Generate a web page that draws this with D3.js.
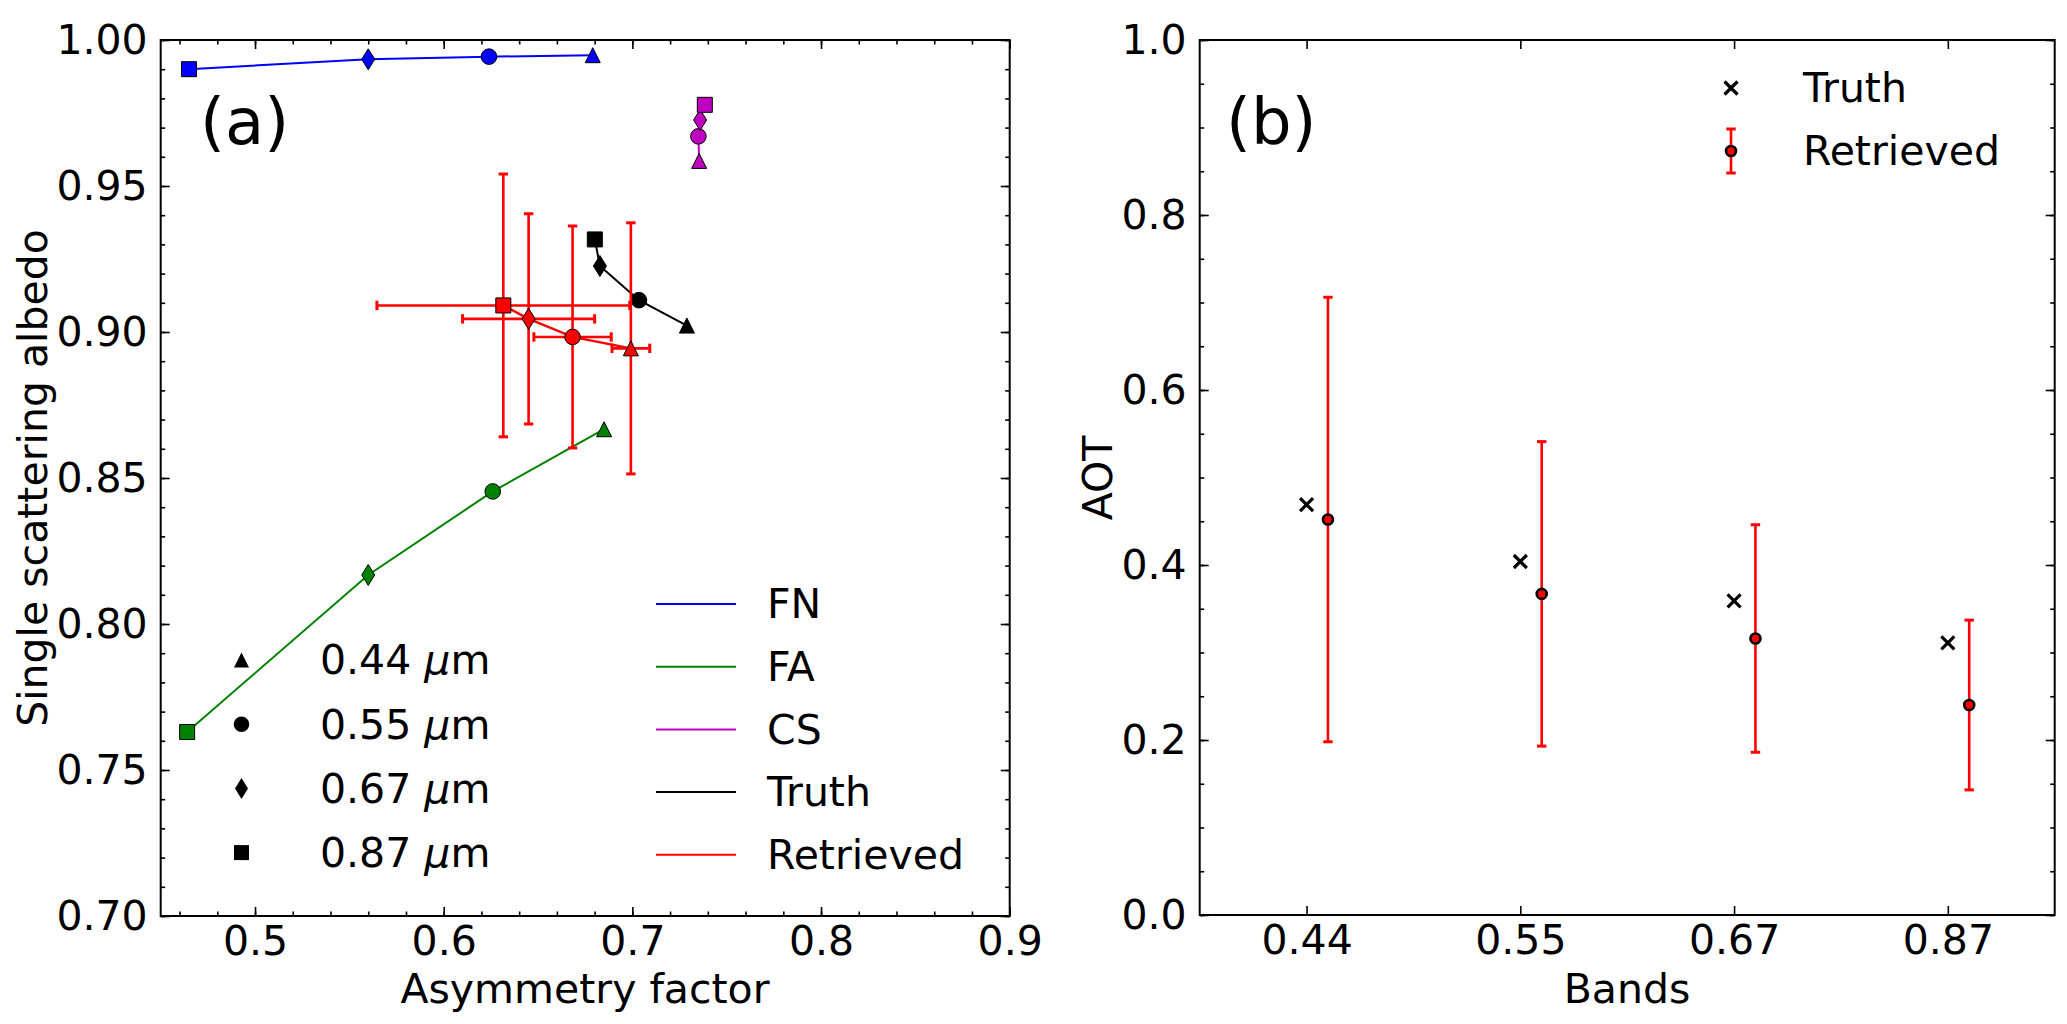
<!DOCTYPE html>
<html>
<head>
<meta charset="utf-8">
<script src="https://cdn.jsdelivr.net/npm/d3@7"></script>
<style>
  body { margin: 0; background: #fff; }
  text { font-family: "DejaVu Sans", sans-serif; }
</style>
</head>
<body>
<svg id="fig" width="2067" height="1024"></svg>
<script>
// wavelengths, in the same order as the marker shapes
const bands = ['0.44', '0.55', '0.67', '0.87'];
const shapes = ['triangle', 'circle', 'diamond', 'square'];

// panel (a): asymmetry factor (g) and single scattering albedo (w)
const fnG = [0.679, 0.624, 0.560, 0.465];
const fnW = [0.9948, 0.9943, 0.9934, 0.9900];
const faG = [0.685, 0.626, 0.560, 0.464];
const faW = [0.8667, 0.8454, 0.8168, 0.7630];
const csG = [0.7354, 0.7350, 0.7359, 0.7384];
const csW = [0.9586, 0.9670, 0.9726, 0.9778];
const truthG = [0.7289, 0.7035, 0.6828, 0.6801];
const truthW = [0.9022, 0.9109, 0.9226, 0.9317];
const retG = [0.6992, 0.6683, 0.6450, 0.6316];
const retW = [0.8944, 0.8983, 0.9045, 0.9091];
const retGErr = [0.010, 0.0205, 0.035, 0.067];
const retWErr = [0.043, 0.038, 0.036, 0.045];

// panel (b): AOT per band
const aotTruth = [0.469, 0.404, 0.359, 0.311];
const aotRet = [0.452, 0.367, 0.316, 0.240];
const aotErr = [0.254, 0.174, 0.130, 0.097];

const series = [
  { name: 'FN', color: '#0000ff', g: fnG, w: fnW },
  { name: 'FA', color: '#008000', g: faG, w: faW },
  { name: 'CS', color: '#bf00bf', g: csG, w: csW },
  { name: 'Truth', color: '#000000', g: truthG, w: truthW },
  { name: 'Retrieved', color: '#ff0000', g: retG, w: retW }
];

const svg = d3.select('#fig');
const FS = 41;

function markerPath(shape) {
  switch (shape) {
    case 'triangle': return 'M0,-7.5L7.5,7.5L-7.5,7.5Z';
    case 'diamond': return 'M0,-10.5L6.5,0L0,10.5L-6.5,0Z';
    case 'square': return 'M-7.5,-7.5H7.5V7.5H-7.5Z';
    default: return d3.arc()({ innerRadius: 0, outerRadius: 7.8, startAngle: 0, endAngle: 2 * Math.PI });
  }
}

function styleAxis(sel) {
  sel.select('.domain').remove();
  sel.selectAll('.tick line').attr('stroke', '#000').attr('stroke-width', 1.6);
  sel.attr('font-size', FS).attr('font-family', '"DejaVu Sans", sans-serif');
  sel.selectAll('text').attr('fill', '#000');
}

// classic matplotlib frame: ticks inward on all four sides
function drawFrame(g, x, y, o) {
  const [x0, x1] = x.range();
  const [y0, y1] = y.range();
  const addAxis = (axis, tr, values, size, fmt, pad) => {
    const a = g.append('g').attr('transform', tr)
      .call(axis.tickValues(values).tickSize(-size).tickPadding(pad).tickFormat(fmt));
    styleAxis(a);
  };
  const none = () => '';
  addAxis(d3.axisBottom(x), `translate(0,${y0})`, o.xMajor, 9, o.xFmt, 10);
  addAxis(d3.axisTop(x), `translate(0,${y1})`, o.xMajor, 9, none, 0);
  addAxis(d3.axisLeft(y), `translate(${x0},0)`, o.yMajor, 9, o.yFmt, 13);
  addAxis(d3.axisRight(y), `translate(${x1},0)`, o.yMajor, 9, none, 0);
  if (o.xMinor) {
    addAxis(d3.axisBottom(x), `translate(0,${y0})`, o.xMinor, 4.5, none, 0);
    addAxis(d3.axisTop(x), `translate(0,${y1})`, o.xMinor, 4.5, none, 0);
  }
  if (o.yMinor) {
    addAxis(d3.axisLeft(y), `translate(${x0},0)`, o.yMinor, 4.5, none, 0);
    addAxis(d3.axisRight(y), `translate(${x1},0)`, o.yMinor, 4.5, none, 0);
  }
  g.append('rect')
    .attr('x', x0).attr('y', y1)
    .attr('width', x1 - x0).attr('height', y0 - y1)
    .attr('fill', 'none').attr('stroke', '#000').attr('stroke-width', 2);
}

function errBar(g, x1, y1, x2, y2, vertical) {
  g.append('line').attr('x1', x1).attr('y1', y1).attr('x2', x2).attr('y2', y2)
    .attr('stroke', '#ff0000').attr('stroke-width', 2.6);
  const cap = 4.7;
  [[x1, y1], [x2, y2]].forEach(([cx, cy]) => {
    g.append('line')
      .attr('x1', vertical ? cx - cap : cx).attr('x2', vertical ? cx + cap : cx)
      .attr('y1', vertical ? cy : cy - cap).attr('y2', vertical ? cy : cy + cap)
      .attr('stroke', '#ff0000').attr('stroke-width', 3);
  });
}

// ---------- panel (a) ----------
const xA = d3.scaleLinear().domain([0.45, 0.9]).range([160.7, 1009.7]);
const yA = d3.scaleLinear().domain([0.70, 1.00]).range([916, 40]);
const gA = svg.append('g');

const line = d3.line().x(d => xA(d[0])).y(d => yA(d[1]));

series.forEach(s => {
  const pts = s.g.map((v, i) => [v, s.w[i]]);
  if (s.name === 'Retrieved') {
    const eg = gA.append('g');
    pts.forEach((p, i) => {
      errBar(eg, xA(p[0]), yA(p[1] + retWErr[i]), xA(p[0]), yA(p[1] - retWErr[i]), true);
      errBar(eg, xA(p[0] - retGErr[i]), yA(p[1]), xA(p[0] + retGErr[i]), yA(p[1]), false);
    });
  }
  gA.append('path').attr('d', line(pts))
    .attr('fill', 'none').attr('stroke', s.color)
    .attr('stroke-width', s.name === 'Retrieved' ? 2.4 : 2);
  gA.selectAll(null).data(pts).enter().append('path')
    .attr('d', (d, i) => markerPath(shapes[i]))
    .attr('transform', d => `translate(${xA(d[0])},${yA(d[1])})`)
    .attr('fill', s.color).attr('stroke', '#000').attr('stroke-width', 1);
});

drawFrame(gA, xA, yA, {
  xMajor: [0.5, 0.6, 0.7, 0.8, 0.9],
  xMinor: d3.range(23, 45).map(i => i * 0.02),
  yMajor: d3.range(0, 7).map(i => 0.70 + i * 0.05),
  yMinor: d3.range(70, 101).map(i => i / 100),
  xFmt: d3.format('.1f'),
  yFmt: d3.format('.2f')
});

gA.append('text').attr('x', 585).attr('y', 1003).attr('text-anchor', 'middle')
  .attr('font-size', FS).text('Asymmetry factor');
gA.append('text').attr('transform', 'translate(47,478) rotate(-90)').attr('text-anchor', 'middle')
  .attr('font-size', FS).text('Single scattering albedo');
gA.append('text').attr('x', 200).attr('y', 144).attr('font-size', 64).text('(a)');

// marker legend (wavelengths)
const legM = gA.append('g');
bands.forEach((b, i) => {
  const cy = 660 + i * 64.2;
  legM.append('path').attr('d', markerPath(shapes[i]))
    .attr('transform', `translate(241.5,${cy})`).attr('fill', '#000');
  const t = legM.append('text').attr('x', 320).attr('y', cy).attr('dy', '0.35em')
    .attr('font-size', FS).text(b + ' ');
  t.append('tspan').attr('font-style', 'italic').text('\u03bc');
  t.append('tspan').text('m');
});

// line legend (datasets)
const legL = gA.append('g');
series.forEach((s, i) => {
  const cy = 604 + i * 62.7;
  legL.append('line').attr('x1', 656).attr('x2', 736).attr('y1', cy).attr('y2', cy)
    .attr('stroke', s.color).attr('stroke-width', 2);
  legL.append('text').attr('x', 767).attr('y', cy).attr('dy', '0.35em')
    .attr('font-size', FS).text(s.name);
});

// ---------- panel (b) ----------
const xB = d3.scaleLinear().domain([-0.5, 3.5]).range([1199.7, 2054.7]);
const yB = d3.scaleLinear().domain([0, 1]).range([915, 40]);
const gB = svg.append('g');
const offset = 0.1;

function crossMark(g, cx, cy) {
  const h = 6.5;
  g.append('path').attr('d', `M${cx - h},${cy - h}L${cx + h},${cy + h}M${cx - h},${cy + h}L${cx + h},${cy - h}`)
    .attr('stroke', '#000').attr('stroke-width', 3.2).attr('fill', 'none');
}
function retMark(g, cx, cy) {
  g.append('circle').attr('cx', cx).attr('cy', cy).attr('r', 5)
    .attr('fill', '#ff0000').attr('stroke', '#000').attr('stroke-width', 2.6);
}

aotTruth.forEach((v, i) => crossMark(gB, xB(i), yB(v)));
aotRet.forEach((v, i) => {
  const cx = xB(i + offset);
  errBar(gB, cx, yB(v + aotErr[i]), cx, yB(v - aotErr[i]), true);
  retMark(gB, cx, yB(v));
});

drawFrame(gB, xB, yB, {
  xMajor: [0, 1, 2, 3],
  yMajor: d3.range(0, 6).map(i => i * 0.2),
  yMinor: d3.range(0, 21).map(i => i * 0.05),
  xFmt: i => bands[i],
  yFmt: d3.format('.1f')
});

gB.append('text').attr('x', 1627).attr('y', 1003).attr('text-anchor', 'middle')
  .attr('font-size', FS).text('Bands');
gB.append('text').attr('transform', 'translate(1112,478) rotate(-90)').attr('text-anchor', 'middle')
  .attr('font-size', FS).text('AOT');
gB.append('text').attr('x', 1226).attr('y', 144).attr('font-size', 64).text('(b)');

// legend (b)
crossMark(gB, 1731, 88);
gB.append('text').attr('x', 1803).attr('y', 88).attr('dy', '0.35em').attr('font-size', FS).text('Truth');
errBar(gB, 1731, 129, 1731, 173, true);
retMark(gB, 1731, 151);
gB.append('text').attr('x', 1803).attr('y', 151).attr('dy', '0.35em').attr('font-size', FS).text('Retrieved');
</script>
</body>
</html>
